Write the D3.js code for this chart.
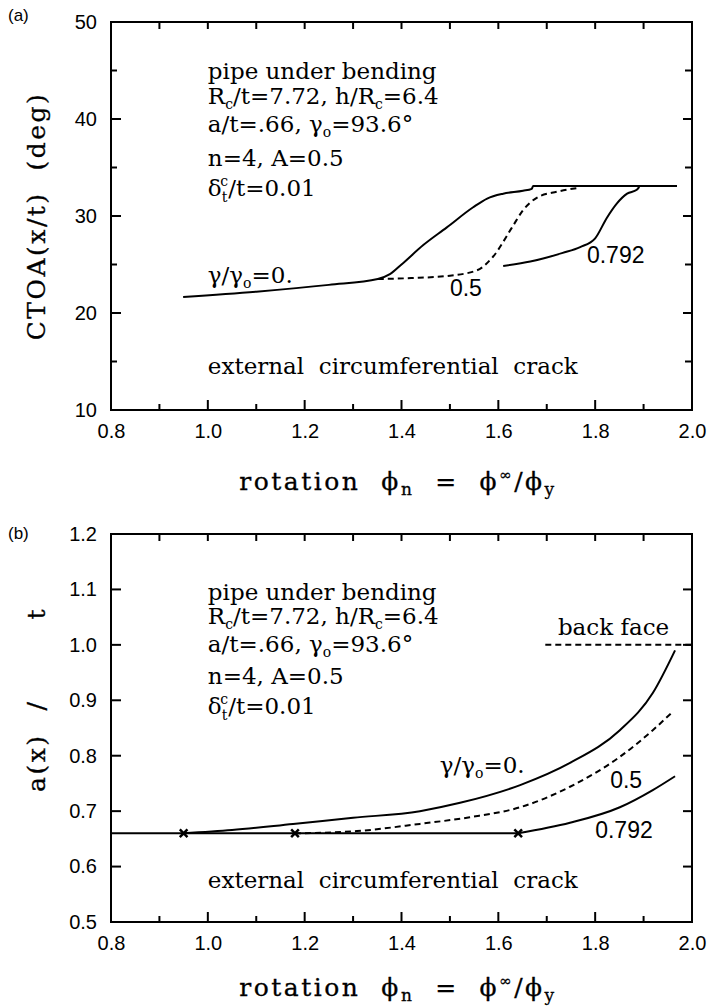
<!DOCTYPE html>
<html>
<head>
<meta charset="utf-8">
<script src="https://cdn.jsdelivr.net/npm/d3@7"></script>
<style>
  body { margin: 0; background: #fff; }
  .tick text { font-family: "Liberation Sans", Arial, sans-serif; font-size: 20px; fill: #000; }
  .note { font-family: "DejaVu Serif", serif; font-size: 23px; fill: #000; white-space: pre; }
  .lab { font-family: "Liberation Sans", Arial, sans-serif; font-size: 23px; fill: #000; }
  .title { font-family: "DejaVu Serif", serif; font-size: 25px; fill: #000; letter-spacing: 2.5px;
           white-space: pre; stroke: #000; stroke-width: 0.3; }
  .curve { fill: none; stroke: #000; stroke-width: 2; }
</style>
</head>
<body>
<div id="plot-container"></div>
<script>
// Tick values
const xMajor = [0.8, 1.0, 1.2, 1.4, 1.6, 1.8, 2.0];
const xMinor = [0.9, 1.1, 1.3, 1.5, 1.7, 1.9];
const ctoaMajor = [10, 20, 30, 40, 50];
const ctoaMinor = [15, 25, 35, 45];
const crackMajor = [0.5, 0.6, 0.7, 0.8, 0.9, 1.0, 1.1, 1.2];

// Panel (a): CTOA vs rotation
const ctoaG0 = [[0.949, 21.65], [1.10, 22.2], [1.25, 22.9], [1.351, 23.5], [1.376, 24.0], [1.40, 25.0],
  [1.445, 27.0], [1.493, 28.8], [1.548, 30.9], [1.577, 31.8], [1.610, 32.3], [1.651, 32.6], [1.669, 32.8],
  [1.672, 33.1], [1.969, 33.1]];
const ctoaG05 = [[1.351, 23.5], [1.42, 23.6], [1.50, 23.85], [1.556, 24.4], [1.589, 25.8], [1.628, 28.8],
  [1.651, 30.6], [1.680, 31.9], [1.721, 32.5], [1.765, 32.9]];
const ctoaG0792 = [[1.610, 24.85], [1.666, 25.3], [1.733, 26.2], [1.769, 26.8], [1.800, 27.7], [1.824, 29.8],
  [1.845, 31.3], [1.866, 32.3], [1.886, 32.7], [1.891, 33.0]];

// Panel (b): crack depth vs rotation
const crackBase = [[0.8, 0.66], [1.641, 0.66]];
const crackG0 = [[0.949, 0.66], [1.05, 0.666], [1.176, 0.677], [1.30, 0.688], [1.438, 0.700], [1.521, 0.715],
  [1.645, 0.747], [1.748, 0.787], [1.851, 0.846], [1.919, 0.913], [1.965, 0.99]];
const crackG05 = [[1.18, 0.66], [1.308, 0.664], [1.438, 0.677], [1.541, 0.689], [1.645, 0.707], [1.748, 0.744],
  [1.851, 0.798], [1.919, 0.846], [1.961, 0.88]];
const crackG0792 = [[1.641, 0.66], [1.748, 0.679], [1.851, 0.707], [1.919, 0.738], [1.965, 0.763]];
const crackMarks = [0.95, 1.18, 1.641];
const backFace = [[1.697, 1.0], [2.0, 1.0]];

const W = 707, H = 1007;
const svg = d3.select("#plot-container").append("svg")
  .attr("width", W).attr("height", H);

const plotL = 111, plotR = 692;

// write text with sub/superscripts; parts = [text, dy, size, dx]
function rich(g, x, y, parts, cls) {
  const t = g.append("text").attr("class", cls).attr("x", x).attr("y", y);
  parts.forEach(p => {
    const s = t.append("tspan").text(p[0]);
    if (p[1]) s.attr("dy", p[1]);
    if (p[2]) s.style("font-size", p[2] + "px");
    if (p[3]) s.attr("dx", p[3]);
  });
  return t;
}

function notes(g, x, ys) {
  rich(g, x, ys[0], [["pipe under bending"]], "note");
  rich(g, x, ys[1], [["R"], ["c", 5, 14], ["/t=7.72, h/R", -5], ["c", 5, 14], ["=6.4", -5]], "note");
  rich(g, x, ys[2], [["a/t=.66, \u03b3"], ["o", 5, 14], ["=93.6\u00b0", -5]], "note");
  rich(g, x, ys[3], [["n=4, A=0.5"]], "note");
  rich(g, x, ys[4], [["\u03b4"], ["t", 6, 14], ["c", -16, 14, -7], ["/t=0.01", 10]], "note");
}

// inward tick marks drawn from a scale
function ticks(g, scale, values, side, at, len) {
  const hor = side === "top" || side === "bottom";
  const dir = (side === "bottom" || side === "right") ? -1 : 1;
  g.append("g").selectAll("path").data(values).enter().append("path")
    .attr("fill", "none")
    .attr("stroke", "#000")
    .attr("stroke-width", 2)
    .attr("d", d => hor
      ? `M${scale(d)},${at}V${at + dir * len}`
      : `M${at},${scale(d)}H${at + dir * len}`);
}

function panel(top, bottom, yDomain, yMajor, yMinor, yFmt) {
  const x = d3.scaleLinear().domain([0.8, 2.0]).range([plotL, plotR]);
  const y = d3.scaleLinear().domain(yDomain).range([bottom, top]);
  const g = svg.append("g");

  // tick labels from d3 axes
  g.append("g").attr("transform", `translate(0,${bottom})`)
    .call(d3.axisBottom(x).tickValues(xMajor).tickSize(0).tickPadding(14).tickFormat(d3.format(".1f")));
  g.append("g").attr("transform", `translate(${plotL},0)`)
    .call(d3.axisLeft(y).tickValues(yMajor).tickSize(0).tickPadding(14).tickFormat(yFmt));
  g.selectAll(".domain").remove();

  g.append("rect").attr("x", plotL).attr("y", top)
    .attr("width", plotR - plotL).attr("height", bottom - top)
    .attr("fill", "none").attr("stroke", "#000").attr("stroke-width", 2);

  ticks(g, x, xMajor, "bottom", bottom, 10);
  ticks(g, x, xMinor, "bottom", bottom, 6);
  ticks(g, x, xMajor.concat(xMinor), "top", top, 7);
  ticks(g, y, yMajor, "left", plotL, 10);
  ticks(g, y, yMajor, "right", plotR, 9);
  ticks(g, y, yMinor, "left", plotL, 6);
  ticks(g, y, yMinor, "right", plotR, 7);
  return { g, x, y };
}

function curve(p, data, dashed) {
  const line = d3.line().x(d => p.x(d[0])).y(d => p.y(d[1])).curve(d3.curveMonotoneX);
  p.g.append("path").datum(data).attr("class", "curve").attr("d", line)
    .attr("stroke-dasharray", dashed ? "6,4" : null);
}

function xLabel(cx, y) {
  rich(svg, cx, y, [["rotation  \u03d5"], ["n", 5, 17], ["  =  \u03d5", -5], ["\u221e", -10, 15], ["/\u03d5", 10], ["y", 5, 17], ["", -5]], "title")
    .attr("text-anchor", "middle");
}

// ---- panel (a)
const pa = panel(22, 410, [10, 50], ctoaMajor, ctoaMinor, d3.format("d"));
curve(pa, ctoaG0, false);
curve(pa, ctoaG05, true);
curve(pa, ctoaG0792, false);
notes(pa.g, pa.x(1.0), [79, 104, 132, 166, 196]);
rich(pa.g, pa.x(1.0), 374, [["external  circumferential  crack"]], "note");
rich(pa.g, pa.x(1.0), 283, [["\u03b3/\u03b3"], ["o", 5, 14], ["=0.", -5]], "note");
rich(pa.g, pa.x(1.50), 296, [["0.5"]], "lab");
rich(pa.g, pa.x(1.783), 263, [["0.792"]], "lab");
svg.append("text").attr("class", "title")
  .attr("transform", `translate(45,${pa.y(30)}) rotate(-90)`)
  .attr("text-anchor", "middle").text("CTOA(x/t)  (deg)");
xLabel(398, 490);
svg.append("text").attr("x", 8).attr("y", 21).style("font-family", "Liberation Sans").style("font-size", "17px").text("(a)");

// ---- panel (b)
const pb = panel(534, 922, [0.5, 1.2], crackMajor, [], d3.format(".1f"));
curve(pb, crackBase, false);
curve(pb, crackG0, false);
curve(pb, crackG05, true);
curve(pb, crackG0792, false);
curve(pb, backFace, true);
pb.g.selectAll(".mark").data(crackMarks).enter().append("path")
  .attr("class", "mark")
  .attr("transform", d => `translate(${pb.x(d)},${pb.y(0.66)})`)
  .attr("d", d3.symbol().type(d3.symbolX).size(40))
  .attr("stroke", "#000").attr("stroke-width", 2.5);
notes(pb.g, pb.x(1.0), [600, 624, 652, 684, 714]);
rich(pb.g, pb.x(1.0), 888, [["external  circumferential  crack"]], "note");
rich(pb.g, pb.x(1.479), 773, [["\u03b3/\u03b3"], ["o", 5, 14], ["=0.", -5]], "note");
rich(pb.g, pb.x(1.831), 788, [["0.5"]], "lab");
rich(pb.g, pb.x(1.80), 838, [["0.792"]], "lab");
rich(pb.g, pb.x(1.723), 635, [["back face"]], "note");
rich(svg, 0, 0, [["a(x)"], ["/", 0, 0, 23], ["t", 0, 0, 80]], "title")
  .attr("transform", "translate(45,792) rotate(-90)");
xLabel(398, 996);
svg.append("text").attr("x", 8).attr("y", 539).style("font-family", "Liberation Sans").style("font-size", "17px").text("(b)");
</script>
</body>
</html>
